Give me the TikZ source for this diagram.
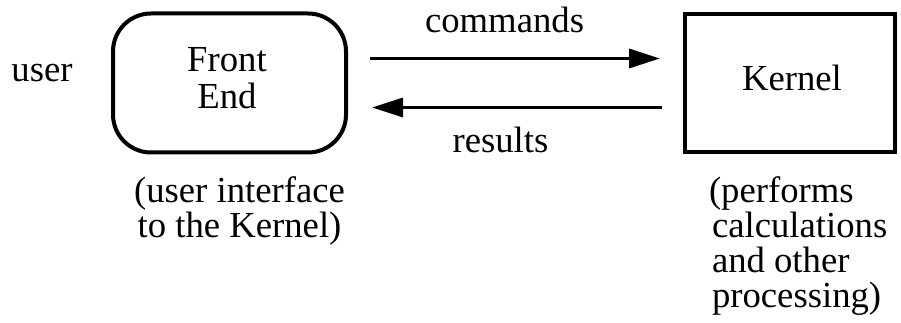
\documentclass[tikz,border=0pt]{standalone}
\usepackage{fontspec}
\setmainfont{Liberation Serif}
\usetikzlibrary{arrows.meta,calc}
\begin{document}
\begin{tikzpicture}[x=1pt,y=-1pt,
  txt/.style={font=\fontsize{36.7}{35}\selectfont, inner sep=0pt, outer sep=0pt, anchor=base},
  box/.style={draw, line width=4pt, inner sep=0pt},
  flow/.style={line width=3.3pt, -{Triangle[length=31pt,width=19pt]}}]
\useasboundingbox (0,0) rectangle (901,323);
\node[box, rounded corners=38pt, minimum width=233pt, minimum height=139pt] (fe) at (229.5,83) {};
\node[box, minimum width=210pt, minimum height=138pt] (k) at (790,83) {};
\node[txt, align=center, font=\fontsize{36.7}{37}\selectfont] (fet) at (227,109) {Front\\End};
\node[txt] (kt) at (792,91) {Kernel};
\node[txt] (user) at (42,82) {user};
\node[txt] (cmd) at (504.5,33) {commands};
\node[txt] (res) at (500.5,153) {results};
\node[txt, align=center] (fenote) at (239.5,237) {(user interface\\to the Kernel)};
\node[txt, align=left, anchor=base west] (knote) at (709,307) {(performs\\\kern3pt calculations\\\kern3pt and other\\\kern3pt processing)};
\draw[flow, shorten <=22pt, shorten >=23pt] ($(fe.east)+(0,-24.5)$) -- ($(k.west)+(0,-24.5)$);
\draw[flow, shorten <=21pt, shorten >=24pt] ($(k.west)+(0,24.5)$) -- ($(fe.east)+(0,24.5)$);
\end{tikzpicture}
\end{document}
